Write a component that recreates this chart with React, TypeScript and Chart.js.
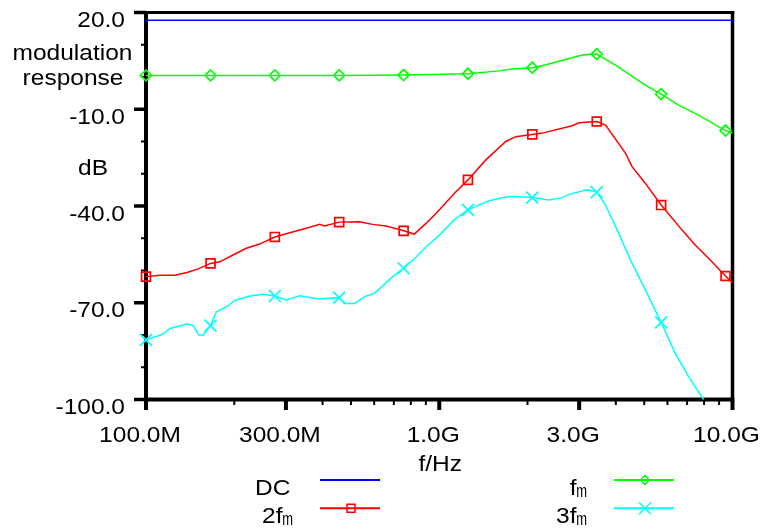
import React, { useEffect, useRef } from 'react';
import { Chart, registerables } from 'chart.js';

Chart.register(...registerables);

// ---- data (frequency in MHz, level in dB) ----
const markerFreqs = [100, 166, 275, 456, 756, 1253, 2077, 3444, 5710, 9468];

const dcFreq = [100, 10000];
const dcDb = [17.6, 17.6];

const fmFreq = [100, 166, 275, 456, 756, 1253, 1600, 1776, 2077, 2246, 3072, 3444, 3990, 5047, 5710, 6551, 7663, 9468, 10000];
const fmDb = [0.5, 0.5, 0.5, 0.5, 0.6, 1.0, 1.9, 2.5, 2.9, 3.5, 6.8, 7.1, 3.7, -2.5, -5.3, -8.7, -11.8, -16.6, -17.4];

const f2Freq = [100, 112, 125.5, 138, 150.6, 166, 178.5, 198, 220, 244, 275, 309, 352, 391, 406, 456, 534, 593, 659, 756, 822, 901, 975, 1125, 1253, 1442, 1686, 1823, 2077, 2246, 2841, 2994, 3444, 3690, 4315, 4545, 5047, 5710, 6723, 7465, 8505, 9468, 10000];
const f2Db = [-61.9, -61.5, -61.5, -60.6, -59.5, -57.8, -57.3, -55.2, -53.1, -51.8, -49.6, -48.3, -46.9, -45.7, -46.2, -45.0, -44.9, -45.7, -46.2, -47.7, -48.7, -45.4, -42.3, -36.1, -31.9, -25.7, -20.0, -18.5, -17.8, -17.4, -15.1, -14.2, -13.8, -14.9, -23.6, -27.8, -33.0, -39.7, -47.4, -52.1, -57.3, -61.7, -63.8];

const f3Freq = [100, 114.5, 120.6, 138, 144.8, 151.5, 156.7, 166, 174, 190.5, 200.8, 225.9, 250.6, 275, 301, 334, 391, 456, 475, 514, 563, 601, 694, 756, 833, 901, 1000, 1125, 1253, 1480, 1707, 1871, 2077, 2367, 2627, 2768, 3195, 3444, 3690, 4095, 4487, 5047, 5710, 6383, 7086, 7968];
const f3Db = [-81.5, -79.7, -78.0, -76.6, -77.1, -80.0, -80.0, -77.1, -72.8, -71.0, -69.3, -67.9, -67.4, -67.9, -69.1, -67.8, -68.8, -68.4, -70.2, -70.2, -67.9, -67.1, -61.9, -59.3, -55.9, -52.7, -49.1, -44.3, -41.2, -38.4, -37.1, -37.1, -37.4, -38.1, -37.4, -36.4, -35.0, -35.7, -39.7, -48.5, -56.7, -66.0, -76.1, -85.7, -92.9, -100.0];

const xTickValues = [100, 300, 1000, 3000, 10000];
const xTickLabels = ['100.0M', '300.0M', '1.0G', '3.0G', '10.0G'];
const xMinorTicks = [200, 400, 500, 600, 700, 800, 900, 2000, 4000, 5000, 6000, 7000, 8000, 9000];
const yTickValues = [20, -10, -40, -70, -100];
const yMinorTicks = [10, 0, -20, -30, -50, -60, -80, -90];

const seriesLabels = [['DC', ''], ['f', 'm'], ['2f', 'm'], ['3f', 'm']];
const seriesColors = ['#0000ff', '#00ff00', '#ff0000', '#00ffff'];
const seriesMarkers = ['', 'rectRot', 'rect', 'crossRot'];

const FONT = '"Liberation Sans", Arial, Helvetica, sans-serif';

function drawText(ctx: CanvasRenderingContext2D, s: string, x: number, y: number, align: CanvasTextAlign, size = 21.5, sx = 1.14) {
  ctx.save();
  ctx.translate(x, y);
  ctx.scale(sx, 1);
  ctx.font = `${size}px ${FONT}`;
  ctx.textAlign = align;
  ctx.textBaseline = 'alphabetic';
  ctx.fillStyle = '#000';
  ctx.fillText(s, 0, 0);
  ctx.restore();
}

function drawMarker(ctx: CanvasRenderingContext2D, style: string, x: number, y: number, color: string) {
  if (!style) return;
  ctx.save();
  ctx.strokeStyle = color;
  ctx.lineWidth = 1.5;
  ctx.beginPath();
  if (style === 'rect') {
    ctx.rect(x - 4, y - 4, 8, 8);
  } else if (style === 'rectRot') {
    ctx.moveTo(x, y - 4.5);
    ctx.lineTo(x + 4.5, y);
    ctx.lineTo(x, y + 4.5);
    ctx.lineTo(x - 4.5, y);
    ctx.closePath();
  } else {
    ctx.moveTo(x - 6, y - 6);
    ctx.lineTo(x + 6, y + 6);
    ctx.moveTo(x + 6, y - 6);
    ctx.lineTo(x - 6, y + 6);
  }
  ctx.stroke();
  ctx.restore();
}

const decorPlugin = {
  id: 'decor',
  beforeDatasetsDraw(chart: any) {
    const { ctx, chartArea: a, scales } = chart;
    const xs = scales.x;
    const ys = scales.y;
    const line = (x1: number, y1: number, x2: number, y2: number, w: number) => {
      ctx.lineWidth = w;
      ctx.beginPath();
      ctx.moveTo(x1, y1);
      ctx.lineTo(x2, y2);
      ctx.stroke();
    };
    ctx.save();
    ctx.strokeStyle = '#000';
    ctx.lineCap = 'butt';
    line(a.left, a.top - 1.5, a.left, a.bottom + 2, 4);
    line(a.left - 2, a.bottom, a.right + 1.75, a.bottom, 4);
    line(a.left, a.top, a.right + 1.75, a.top, 3);
    line(a.right, a.top - 1.5, a.right, a.bottom, 3.5);
    yTickValues.forEach((v) => {
      const y = ys.getPixelForValue(v);
      line(a.left - 12, y, a.left, y, 3.5);
    });
    yMinorTicks.forEach((v) => {
      const y = ys.getPixelForValue(v);
      line(a.left - 5, y, a.left, y, 2);
    });
    xTickValues.forEach((v) => {
      const x = xs.getPixelForValue(v);
      line(x, a.bottom, x, a.bottom + 10.5, 4);
    });
    xMinorTicks.forEach((v) => {
      const x = xs.getPixelForValue(v);
      line(x, a.bottom, x, a.bottom + 5.5, 2);
    });
    ctx.restore();
  },
  afterDraw(chart: any) {
    const { ctx, chartArea: a, scales } = chart;
    const xs = scales.x;
    const ys = scales.y;
    // y tick labels
    yTickValues.forEach((v) => {
      drawText(ctx, v.toFixed(1), a.left - 21, ys.getPixelForValue(v) + 14.5, 'right');
    });
    // x tick labels
    xTickValues.forEach((v, i) => {
      drawText(ctx, xTickLabels[i], xs.getPixelForValue(v) - 6, a.bottom + 42.5, 'center');
    });
    // y axis title words
    drawText(ctx, 'modulation', a.left - 73.5, a.top + 47.5, 'center');
    drawText(ctx, 'response', a.left - 73, a.top + 72.5, 'center');
    drawText(ctx, 'dB', a.left - 53, a.top + 162.5, 'center');
    // x axis title
    drawText(ctx, 'f/Hz', (a.left + a.right) / 2 + 1, a.bottom + 71.5, 'center');
    // legend
    const colRight = [293, 587];
    const rowBase = [495, 523.3];
    seriesLabels.forEach((lab, i) => {
      const col = i % 2;
      const row = Math.floor(i / 2);
      const xr = colRight[col];
      const yb = rowBase[row];
      if (lab[1]) {
        drawText(ctx, lab[1], xr, yb + 2, 'right', 19, 0.68);
        drawText(ctx, lab[0], xr - 10.5, yb, 'right');
      } else {
        drawText(ctx, lab[0], xr - 2.5, yb, 'right');
      }
      const ly = yb - 15;
      const lx1 = xr + 27;
      const lx2 = lx1 + 60;
      ctx.save();
      ctx.strokeStyle = seriesColors[i];
      ctx.lineWidth = 2;
      ctx.beginPath();
      ctx.moveTo(lx1, ly);
      ctx.lineTo(lx2, ly);
      ctx.stroke();
      ctx.restore();
      drawMarker(ctx, seriesMarkers[i], (lx1 + lx2) / 2 + 1, ly, seriesColors[i]);
    });
  },
};

const toPoints = (freqs: number[], dbs: number[]) => freqs.map((f, i) => ({ x: f, y: dbs[i] }));
const isMarker = (c: any) => !!c.raw && markerFreqs.includes(c.raw.x);

function makeDataset(idx: number, freqs: number[], dbs: number[], radius: number) {
  return {
    label: seriesLabels[idx].join(''),
    data: toPoints(freqs, dbs),
    borderColor: seriesColors[idx],
    borderWidth: 1.5,
    tension: 0,
    fill: false,
    clip: false as any,
    pointStyle: seriesMarkers[idx] || 'circle',
    pointRadius: (c: any) => (radius > 0 && isMarker(c) ? radius : 0),
    pointHoverRadius: 0,
    pointBorderWidth: 1.7,
    pointBorderColor: seriesColors[idx],
    pointBackgroundColor: 'rgba(0,0,0,0)',
  };
}

export default function App() {
  const ref = useRef<HTMLCanvasElement>(null);
  useEffect(() => {
    if (!ref.current) return;
    const chart = new Chart(ref.current, {
      type: 'line',
      data: {
        datasets: [
          makeDataset(0, dcFreq, dcDb, 0),
          makeDataset(1, fmFreq, fmDb, 5.5),
          makeDataset(2, f2Freq, f2Db, 6.3),
          makeDataset(3, f3Freq, f3Db, 8.5),
        ] as any,
      },
      options: {
        responsive: false,
        animation: false,
        events: [],
        layout: { autoPadding: false, padding: { top: 12.5, right: 30.5, bottom: 0, left: 0 } },
        plugins: { legend: { display: false }, tooltip: { enabled: false }, title: { display: false } },
        scales: {
          x: {
            type: 'logarithmic',
            position: 'bottom',
            min: 100,
            max: 10000,
            grid: { display: false, drawTicks: false },
            border: { display: false },
            ticks: { display: false },
            afterFit: (s: any) => {
              s.height = 129.5;
              s.paddingLeft = 0;
              s.paddingRight = 0;
            },
          },
          y: {
            type: 'linear',
            position: 'left',
            min: -100,
            max: 20,
            grid: { display: false, drawTicks: false },
            border: { display: false },
            ticks: { display: false },
            afterFit: (s: any) => {
              s.width = 146;
              s.paddingTop = 0;
              s.paddingBottom = 0;
            },
          },
        },
      } as any,
      plugins: [decorPlugin],
    });
    return () => chart.destroy();
  }, []);
  return (
    <div style={{ position: 'absolute', left: 0, top: 0, width: 763, height: 529, background: '#fff' }}>
      <canvas ref={ref} width={763} height={529} style={{ display: 'block', width: 763, height: 529 }} />
    </div>
  );
}
